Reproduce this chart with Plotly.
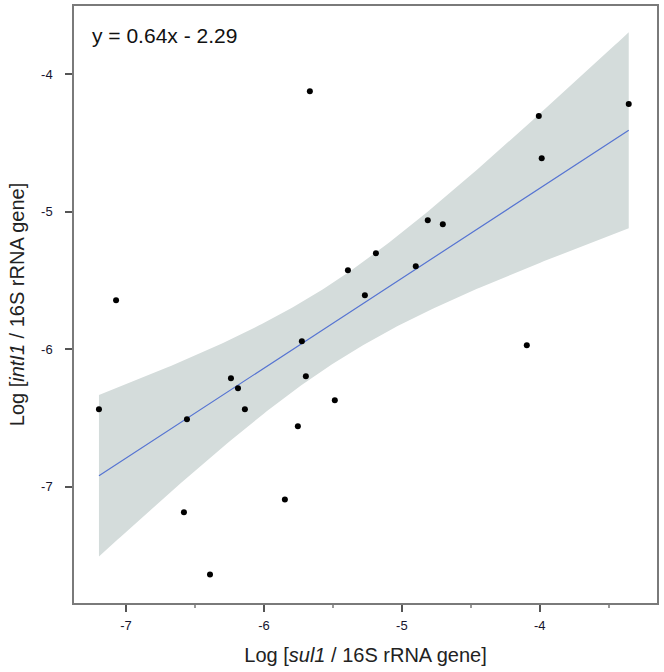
import numpy as np
import plotly.graph_objects as go

# data
sul1 = [-7.196, -7.072, -6.580, -6.558, -6.391, -6.239, -6.188, -6.138, -5.848, -5.754,
        -5.725, -5.696, -5.667, -5.486, -5.391, -5.268, -5.188, -4.899, -4.812, -4.703,
        -4.094, -4.007, -3.986, -3.355]
intI1 = [-6.436, -5.644, -7.185, -6.509, -7.636, -6.211, -6.284, -6.436, -7.091, -6.560,
         -5.942, -6.196, -4.124, -6.371, -5.425, -5.607, -5.302, -5.396, -5.062, -5.091,
         -5.971, -4.305, -4.611, -4.218]
t_crit = 2.074  # t(0.975, df=22)
x_ticks = [-7, -6, -5, -4]
y_ticks = [-7, -6, -5, -4]
equation_text = "y = 0.64x - 2.29"

x = np.array(sul1)
y = np.array(intI1)
n = len(x)
b1, b0 = np.polyfit(x, y, 1)
resid = y - (b0 + b1 * x)
s = np.sqrt(np.sum(resid ** 2) / (n - 2))
xm = x.mean()
sxx = np.sum((x - xm) ** 2)
xs = np.linspace(x.min(), x.max(), 200)
fit = b0 + b1 * xs
half = t_crit * s * np.sqrt(1 / n + (xs - xm) ** 2 / sxx)
upper = fit + half
lower = fit - half

fig = go.Figure()
fig.add_trace(go.Scatter(x=np.concatenate([xs, xs[::-1]]), y=np.concatenate([upper, lower[::-1]]),
                         fill="toself", fillcolor="#d4dcdb", line=dict(width=0),
                         mode="lines", hoverinfo="skip", showlegend=False))
fig.add_trace(go.Scatter(x=xs, y=fit, mode="lines", line=dict(color="#5674d2", width=1.2),
                         showlegend=False))
fig.add_trace(go.Scatter(x=sul1, y=intI1, mode="markers",
                         marker=dict(color="#000000", size=6), showlegend=False))

font_family = "Liberation Sans, Arial, sans-serif"
axis_common = dict(showline=True, linecolor="#7a7a7a", linewidth=1.5, mirror=True,
                   ticks="outside", ticklen=7, tickwidth=2, tickcolor="#555555",
                   showgrid=False, zeroline=False, automargin=False,
                   tickfont=dict(size=13, color="#15152e", family=font_family))

fig.update_layout(
    width=664, height=672,
    margin=dict(l=74, r=7, t=6, b=69),
    plot_bgcolor="white", paper_bgcolor="white",
    font=dict(family=font_family),
    xaxis=dict(range=[-7.377, -3.15], tickvals=x_ticks, ticktext=[str(v) for v in x_ticks],
               minor=dict(tickvals=[-6.5, -5.5, -4.5, -3.5], ticks="outside", ticklen=3,
                          tickcolor="#999999"),
               ticklabelstandoff=3,
               title=dict(text="Log [<i>sul1</i> / 16S rRNA gene]", standoff=16,
                          font=dict(size=20, color="#222222")),
               **axis_common),
    yaxis=dict(range=[-7.844, -3.505], tickvals=y_ticks, ticktext=[str(v) for v in y_ticks],
               ticklabelstandoff=10,
               title=dict(text="Log [<i>intI1</i> / 16S rRNA gene]", standoff=11,
                          font=dict(size=20, color="#222222")),
               **axis_common),
)
fig.add_annotation(x=0.027, y=0.973, xref="paper", yref="paper", xanchor="left", yanchor="top",
                   text=equation_text, showarrow=False,
                   font=dict(size=21, color="#111111", family=font_family))

fig.write_html("out.html", config={"displayModeBar": False},
               post_script="document.body.style.margin='0';")
